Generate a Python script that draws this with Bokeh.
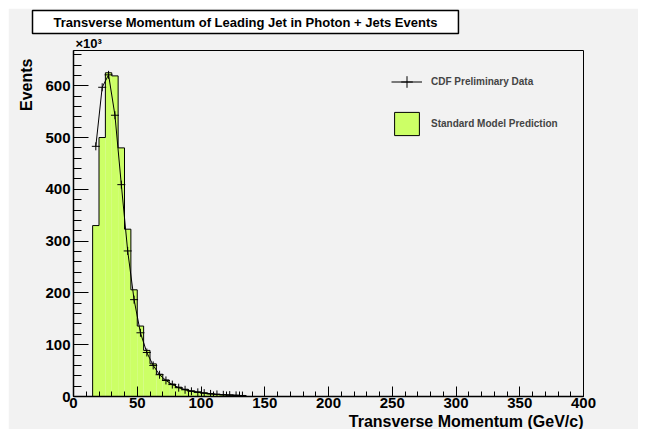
from bokeh.plotting import figure
from bokeh.models import Range1d, SingleIntervalTicker, Title, Legend, LegendItem, ColumnDataSource
from bokeh.embed import file_html
from bokeh.resources import INLINE

# ---- data (events in units of 10^3) ----
bin_edges = [15, 20, 25, 30, 35, 40, 45, 50, 55, 60, 65, 70, 75, 80, 85, 90, 95,
             100, 105, 110, 115, 120, 125, 130, 135]
sm_prediction = [330, 500, 625, 619, 480, 323, 206, 136, 89, 63, 43, 32, 24, 18,
                 14, 11, 9, 7, 5.5, 4.5, 3.5, 3, 2.5, 2]
cdf_data = [483, 597, 621, 543, 409, 281, 187, 123, 85, 60, 42, 31, 23, 17,
            13, 10, 8, 6.5, 5, 4, 3.2, 2.7, 2.2, 1.8]

title_text = "Transverse Momentum of Leading Jet in Photon + Jets Events"
x_title = "Transverse Momentum (GeV/c)"
y_title = "Events"
y_multiplier = "\u00d710\u00b3"

BG = "#f2f2f2"
GREEN = "#ccff66"
FONT = "Liberation Sans"

p = figure(width=630, height=421, margin=(8, 8, 0, 8), output_backend="svg",
           toolbar_location=None, x_range=Range1d(0, 400), y_range=Range1d(0, 668),
           min_border_left=65, min_border_right=55, min_border_top=42, min_border_bottom=20)
p.background_fill_color = BG
p.border_fill_color = BG
p.outline_line_color = "black"
p.outline_line_width = 1
p.grid.visible = False

xa = p.xaxis[0]
xa.ticker = SingleIntervalTicker(interval=50, num_minor_ticks=5)
xa.major_tick_in = 10
xa.major_tick_out = 0
xa.minor_tick_in = 5
xa.minor_tick_out = 0
xa.major_label_standoff = 1
ya = p.yaxis[0]
ya.ticker = SingleIntervalTicker(interval=100, num_minor_ticks=5)
ya.major_tick_in = 15
ya.major_tick_out = 0
ya.minor_tick_in = 8
ya.minor_tick_out = 0
ya.major_label_standoff = 3
for ax in (xa, ya):
    ax.axis_line_color = "black"
    ax.axis_line_width = 1.5
    ax.major_tick_line_color = "black"
    ax.minor_tick_line_color = "black"
    ax.major_label_text_font = FONT
    ax.major_label_text_font_style = "bold"
    ax.major_label_text_font_size = "15px"
    ax.major_label_text_color = "black"

# histogram (SM prediction)
left = bin_edges[:-1]
right = bin_edges[1:]
src = ColumnDataSource(dict(left=left, right=right, top=sm_prediction))
p.quad(left="left", right="right", top="top", bottom=0, source=src,
       fill_color=GREEN, line_color=None)
step_x = [bin_edges[0]] + bin_edges
step_y = [0] + sm_prediction + [0]
p.step(step_x, step_y, mode="after", line_color="black", line_width=1)

# data points
centers = [(a + b) / 2 for a, b in zip(left, right)]
dline = p.line(centers, cdf_data, line_color="black", line_width=1)
dpts = p.scatter(centers, cdf_data, marker="cross", size=8, line_color="black", line_width=1)

# legend proxy for the filled histogram (degenerate, zero-size box)
proxy = p.quad(left=[bin_edges[0]], right=[bin_edges[0]], top=[0], bottom=[0],
               fill_color=GREEN, line_color="black", line_width=1)

legend = Legend(items=[LegendItem(label="CDF Preliminary Data", renderers=[dline, dpts]),
                       LegendItem(label="Standard Model Prediction", renderers=[proxy])],
                location=(318, 258), orientation="vertical", glyph_width=31, glyph_height=29,
                spacing=13, label_standoff=9, padding=0, margin=0,
                border_line_color=None, background_fill_alpha=0,
                label_text_font=FONT, label_text_font_style="bold", label_text_font_size="10px")
p.add_layout(legend)

# multiplier (nearest to the frame), then the main title above it
p.add_layout(Title(text=y_multiplier, align="left", offset=2, standoff=0,
                   text_font=FONT, text_font_style="bold", text_font_size="13px",
                   text_color="black"), "above")
p.add_layout(Title(text=title_text, align="left", offset=-41, standoff=0,
                   text_font=FONT, text_font_style="bold", text_font_size="13px",
                   text_color="black", background_fill_color="white",
                   border_line_color="black", border_line_width=1.5,
                   padding=dict(left=21, right=21, top=4, bottom=4)), "above")

# axis titles
p.add_layout(Title(text=y_title, align="right", offset=8, standoff=15,
                   text_font=FONT, text_font_style="bold", text_font_size="16px",
                   text_color="black"), "left")
p.add_layout(Title(text=x_title, align="right", offset=0, standoff=0,
                   text_font=FONT, text_font_style="bold", text_font_size="16px",
                   text_color="black"), "below")

open("out.html", "w").write(file_html(p, INLINE))
